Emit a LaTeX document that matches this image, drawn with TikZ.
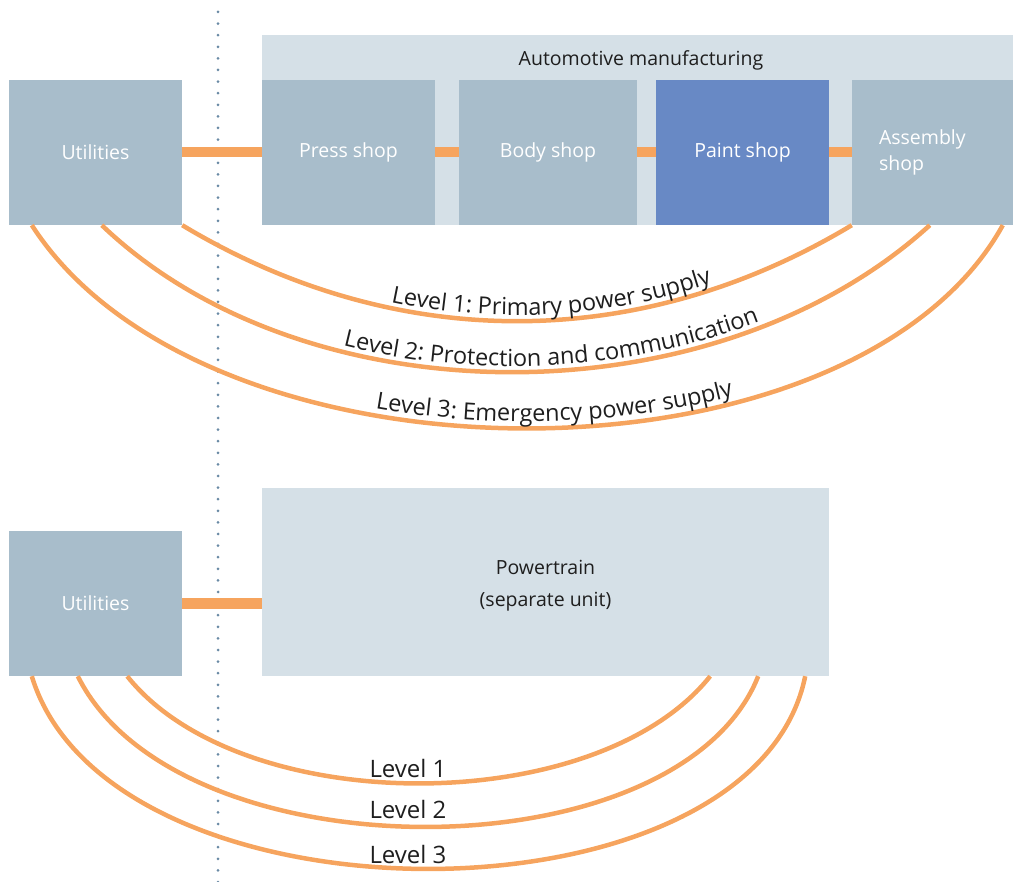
\documentclass[tikz,border=0pt]{standalone}
\usepackage{fontspec}
\setmainfont{Open Sans}
\usetikzlibrary{decorations.text,calc}

\definecolor{boxgray}{RGB}{168,189,203}
\definecolor{panel}{RGB}{213,224,231}
\definecolor{paintblue}{RGB}{104,137,197}
\definecolor{feed}{RGB}{246,164,94}
\definecolor{divider}{RGB}{105,138,165}
\definecolor{ink}{RGB}{30,30,30}

\newcommand{\boxfont}{\fontsize{19.5}{23}\selectfont}
\newcommand{\arcfont}{\fontsize{23.5}{27}\selectfont}
\newcommand{\lvlfont}{\fontsize{24}{28}\selectfont}

\begin{document}
\begin{tikzpicture}[x=1pt,y=-1pt,
  unit/.style={fill=boxgray, text=white, inner sep=0pt, font=\boxfont,
               minimum width=173pt, minimum height=145pt},
  panelbox/.style={fill=panel, inner sep=0pt, text=ink, font=\boxfont},
  feedline/.style={draw=feed, line width=10pt},
  levelarc/.style={draw=feed, line width=4.5pt},
  lvltext/.style={text=ink, font=\lvlfont, anchor=base, inner sep=0pt},
]
\useasboundingbox (0,0) rectangle (1013,882);

% dotted divider between utilities and production
\coordinate (divtop) at (218,12);
\coordinate (divbot) at (218,882);
\draw[divider, line width=3pt, line cap=round, dash pattern=on 0pt off 11.6pt]
  (divtop) -- (divbot);

% ---------- upper plant: automotive manufacturing ----------
\node[panelbox, minimum width=751pt, minimum height=190pt, anchor=north west]
  (mfg) at (262,35) {};
\node[text=ink, font=\boxfont, inner sep=0pt] (mfgtitle) at (641,60) {Automotive manufacturing};

\node[unit] (util1) at (95.5,152.5) {Utilities};
\node[unit] (press) at (348.5,152.5) {Press shop};
\node[unit, minimum width=178pt] (body) at (548,152.5) {Body shop};
\node[unit, fill=paintblue] (paint) at (742.5,152.5) {Paint shop};
\node[unit, minimum width=161pt, text width=107pt, inner xsep=27pt, align=left,
      font=\fontsize{19.5}{26}\selectfont] (assembly) at (932.5,152.5) {Assembly\\shop};

\draw[feedline] (util1.east) -- (press.west);
\draw[feedline] (press.east) -- (body.west);
\draw[feedline] (body.east) -- (paint.west);
\draw[feedline] (paint.east) -- (assembly.west);

% supply levels, upper plant
\draw[levelarc] (util1.south east)
  .. controls +(213,128) and +(-213,128) .. (assembly.south west);
\path[decorate, decoration={text along path, raise=6pt,
      text align={center, left indent=72pt},
      text={|\color{ink}\arcfont|Level 1: Primary power supply}}]
  (util1.south east)
  .. controls +(213,128) and +(-213,128) .. (assembly.south west);

\draw[levelarc] ([xshift=93pt]util1.south west)
  .. controls +(205,196) and +(-215,196) .. ([xshift=78pt]assembly.south west);
\path[decorate, decoration={text along path, raise=6pt,
      text align={center, left indent=76pt},
      text={|\color{ink}\arcfont|Level 2: Protection and communication}}]
  ([xshift=93pt]util1.south west)
  .. controls +(205,196) and +(-215,196) .. ([xshift=78pt]assembly.south west);

\draw[levelarc] ([xshift=23pt]util1.south west)
  .. controls +(175,271) and +(-150,271) .. ([xshift=151pt]assembly.south west);
\path[decorate, decoration={text along path, raise=7pt,
      text align={center, left indent=72pt},
      text={|\color{ink}\arcfont|Level 3: Emergency power supply}}]
  ([xshift=23pt]util1.south west)
  .. controls +(175,271) and +(-150,271) .. ([xshift=151pt]assembly.south west);

% ---------- lower plant: powertrain ----------
\node[unit] (util2) at (95.5,603.5) {Utilities};
\node[panelbox, minimum width=567pt, minimum height=188pt] (ptrain) at (545.5,582) {};
\node[text=ink, align=center, inner sep=0pt,
      font=\fontsize{19.5}{32}\selectfont] (ptraintext) at (545.5,586) {Powertrain\\(separate unit)};

\draw[feedline] (util2.east) -- (util2.east -| ptrain.west);

\draw[levelarc] ([xshift=-55pt]util2.south east)
  .. controls +(114,143) and +(-114,143) .. ([xshift=-119pt]ptrain.south east);
\draw[levelarc] ([xshift=69pt]util2.south west)
  .. controls +(100,201) and +(-80,201) .. ([xshift=-71pt]ptrain.south east);
\draw[levelarc] ([xshift=23pt]util2.south west)
  .. controls +(78,257) and +(-52,257) .. ([xshift=-24pt]ptrain.south east);

\node[lvltext] (lvl1) at (408,777) {Level 1};
\node[lvltext] (lvl2) at (408,818) {Level 2};
\node[lvltext] (lvl3) at (408,863) {Level 3};
\end{tikzpicture}
\end{document}
